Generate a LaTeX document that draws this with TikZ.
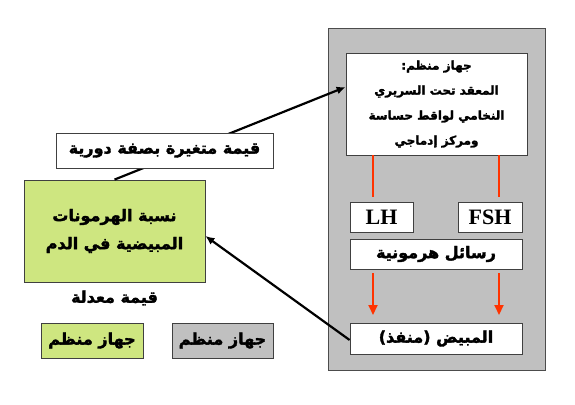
\documentclass[tikz,border=0pt]{standalone}
\usepackage{fontspec}
\setmainfont{Liberation Serif}
\newfontfamily\arabicfont[Script=Arabic, BoldFeatures={FakeBold=2}]{DejaVu Sans}
\TeXXeTstate=1
\usetikzlibrary{positioning, arrows.meta}
\definecolor{panelgray}{RGB}{192,192,192}
\definecolor{regreen}{RGB}{206,230,128}
\definecolor{msgred}{RGB}{255,51,0}
\newcommand{\artext}[1]{\beginR #1\endR}
\begin{document}
\begin{tikzpicture}[x=1pt, y=-1pt,
      every node/.style={rectangle, align=center, inner sep=0pt, font=\arabicfont\bfseries\fontsize{16}{28}\selectfont},
      box/.style={draw=black!75, line width=0.8pt, fill=white},
      greenbox/.style={box, fill=regreen},
      graybox/.style={box, fill=panelgray},
      latin/.style={font=\rmfamily\bfseries\fontsize{22}{24}\selectfont},
      feedback/.style={line width=2.2pt, -{Latex[length=9pt, width=8pt]}},
      hormone/.style={msgred, line width=2pt},
      redarrow/.style={hormone, -{Triangle[length=10pt, width=9pt]}}
    ]
      \useasboundingbox (0,0) rectangle (575,404);
      % panel
      \fill[panelgray] (328,28) rectangle (545,370);
      \draw[black!70, line width=0.8pt] (328,28) rectangle (545,370);
      % boxes in the panel
      \node[box, minimum width=181pt, minimum height=102pt, font=\arabicfont\bfseries\fontsize{12}{25}\selectfont] (center) at (436.5,104)
        {\artext{جهاز منظم:}\\\artext{المعقد تحت السريري}\\\artext{النخامي لواقط حساسة}\\\artext{ومركز إدماجي}};
      \node[box, latin, minimum width=63pt, minimum height=30pt] (lh) at (381.5,217) {LH};
      \node[box, latin, minimum width=64pt, minimum height=30pt] (fsh) at (490,217) {FSH};
      \node[box, minimum width=172pt, minimum height=30pt] (msgs) at (436,254) {\artext{رسائل هرمونية}};
      \node[box, minimum width=172pt, minimum height=31pt] (ovary) at (436,338.5) {\artext{المبيض (منفذ)}};
      % regulated value
      \node[greenbox, minimum width=181pt, minimum height=102pt] (level) at (114.5,231)
        {\artext{نسبة الهرمونات}\\\artext{المبيضية في الدم}};
      \node[below=8pt of level] (setval) {\artext{قيمة معدلة}};
      % legend
      \node[greenbox, minimum width=102pt, minimum height=35pt] (keygreen) at (92,340.5) {\artext{جهاز منظم}};
      \node[graybox, minimum width=101pt, minimum height=35pt] (keygray) at (222.5,340.5) {\artext{جهاز منظم}};
      % red hormone links
      \coordinate (lhtop) at (373,197);
      \coordinate (fshtop) at (499,197);
      \coordinate (lhend) at (373,315);
      \coordinate (fshend) at (499,315);
      \draw[hormone] (center.south -| lhtop) -- (lhtop);
      \draw[hormone] (center.south -| fshtop) -- (fshtop);
      \draw[redarrow] ([yshift=-4pt]msgs.south -| lhend) -- (lhend);
      \draw[redarrow] ([yshift=-4pt]msgs.south -| fshend) -- (fshend);
      % loop
      \draw[feedback] (level.north) -- ([yshift=17pt]center.west);
      \draw[feedback] ([yshift=-1.5pt]ovary.west) -- ([yshift=-5pt]level.east);
      \node[box, minimum width=217pt, minimum height=35pt] (varying) at (164.5,150.5) {\artext{قيمة متغيرة بصفة دورية}};
    \end{tikzpicture}
\end{document}
